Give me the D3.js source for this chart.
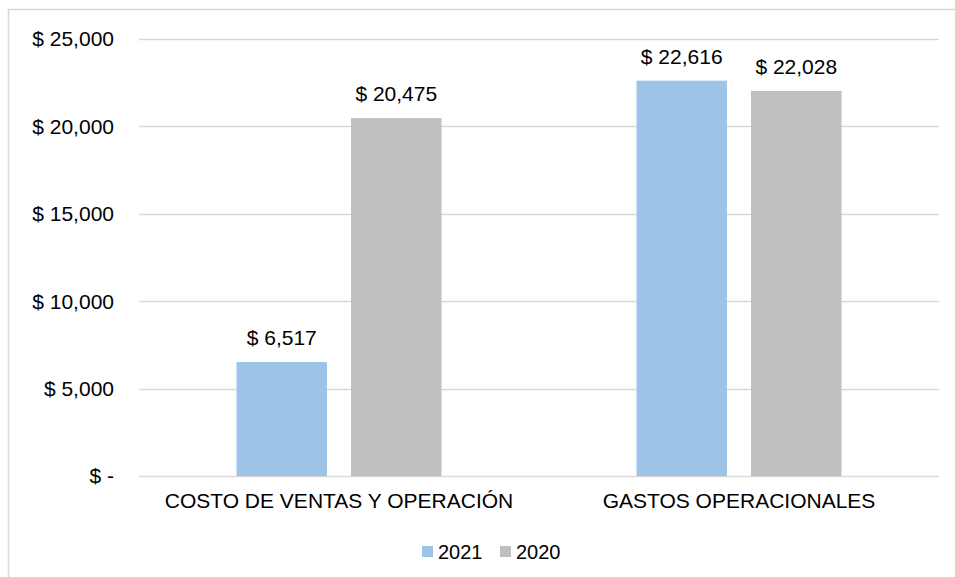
<!DOCTYPE html>
<html><head><meta charset="utf-8">
<script src="https://cdn.jsdelivr.net/npm/d3@7"></script>
<style>body{margin:0;background:#fff}svg{display:block;font-family:"Liberation Sans",Arial,sans-serif}</style>
</head><body>
<svg id="c" width="955" height="577"></svg>
<script>
const categories = ["COSTO DE VENTAS Y OPERACIÓN", "GASTOS OPERACIONALES"];
const seriesNames = ["2021", "2020"];
const values2021 = [6517, 22616];
const values2020 = [20475, 22028];
const tickValues = [0, 5000, 10000, 15000, 20000, 25000];
const tickLabels = ["$ -", "$ 5,000", "$ 10,000", "$ 15,000", "$ 20,000", "$ 25,000"];
const colors = ["#9DC3E6", "#BFBFBF"];

(function(){
const svg = d3.select("#c");
svg.append("rect").attr("x",8.5).attr("y",9.5).attr("width",1000).attr("height",700)
  .attr("fill","#fff").attr("stroke","#D9D9D9").attr("stroke-width",1.5);

const pLeft = 139, pRight = 939, pTop = 39, pBottom = 476;
const y = d3.scaleLinear().domain([0,25000]).range([pBottom, pTop]);
const x0 = d3.scaleBand().domain(categories).range([pLeft, pRight]).paddingInner(0).paddingOuter(0);
const x1 = d3.scaleBand().domain(seriesNames).range([x0.bandwidth()/2 - 102.5, x0.bandwidth()/2 + 102.5]).paddingInner(0.21);

const fs = 21;
svg.append("g").selectAll("line").data(tickValues).join("line")
  .attr("x1", pLeft).attr("x2", pRight)
  .attr("y1", d => Math.round(y(d))+0.5).attr("y2", d => Math.round(y(d))+0.5)
  .attr("stroke", "#D9D9D9").attr("stroke-width", 1.5);
svg.append("g").selectAll("text").data(tickValues).join("text")
  .attr("x", 114).attr("y", d => y(d)).attr("dy","0.35em")
  .attr("text-anchor","end").attr("font-size", fs).attr("fill","#000")
  .text((d,i) => tickLabels[i]);

const rows = categories.map((c,i) => ({cat:c, vals:[values2021[i], values2020[i]]}));
const g = svg.append("g").selectAll("g").data(rows).join("g")
  .attr("transform", d => `translate(${x0(d.cat)},0)`);
g.selectAll("rect").data(d => d.vals.map((v,j)=>({s:seriesNames[j], v, j}))).join("rect")
  .attr("x", d => x1(d.s)).attr("width", x1.bandwidth())
  .attr("y", d => y(d.v)).attr("height", d => y(0) - y(d.v))
  .attr("fill", d => colors[d.j]);
g.selectAll("text").data(d => d.vals.map((v,j)=>({s:seriesNames[j], v, j}))).join("text")
  .attr("x", d => x1(d.s) + x1.bandwidth()/2).attr("y", d => y(d.v) - 17)
  .attr("text-anchor","middle").attr("font-size", fs).attr("fill","#000")
  .text(d => "$ " + d3.format(",")(d.v));

svg.append("g").selectAll("text").data(categories).join("text")
  .attr("x", d => x0(d) + x0.bandwidth()/2).attr("y", 508)
  .attr("text-anchor","middle").attr("font-size", fs).attr("fill","#000")
  .text(d => d);

const lx = [422, 500];
const lg = svg.append("g").selectAll("g").data(seriesNames).join("g")
  .attr("transform", (d,i) => `translate(${lx[i]},546)`);
lg.append("rect").attr("width", 11).attr("height", 11).attr("fill", (d,i) => colors[i]);
lg.append("text").attr("x", 16).attr("y", 5.5).attr("dy","0.35em")
  .attr("font-size", 20).attr("fill","#000").text(d => d);
})();
</script>
</body></html>
